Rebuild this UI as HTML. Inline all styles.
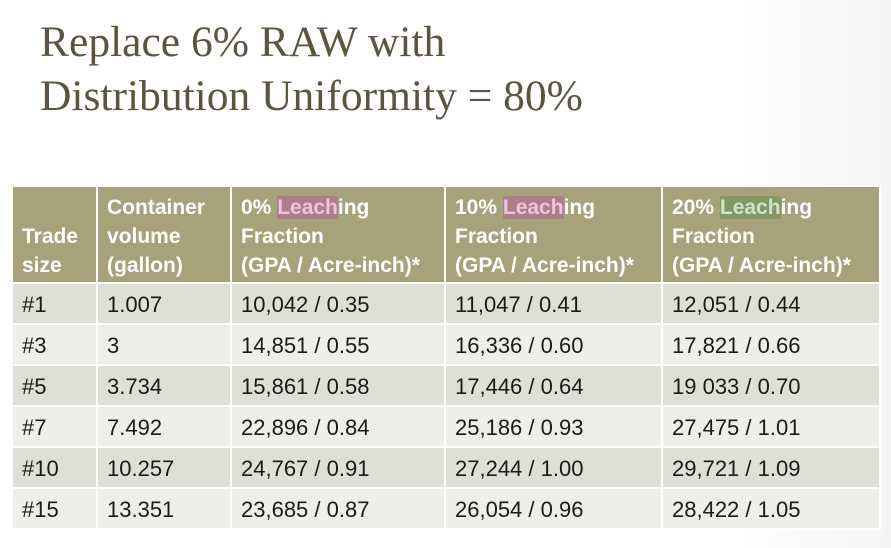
<!DOCTYPE html>
<html><head><meta charset="utf-8"><style>
body{margin:0;width:891px;height:548px;background:#fff;overflow:hidden;position:relative;font-family:"Liberation Sans",sans-serif;}
.bg{position:absolute;right:0;top:0;width:150px;height:548px;background:linear-gradient(90deg,#fff,#f4f4f4);}
h1{position:absolute;left:40px;top:15px;margin:0;font-family:"Liberation Serif",serif;font-weight:normal;font-size:43.5px;line-height:54px;color:#5a5440;}
table{position:absolute;left:11px;top:185px;width:868px;border-collapse:collapse;table-layout:fixed;}
td,th{border:2px solid #fff;padding:3px 0 0 9px;font-size:22px;color:#1a1a1a;text-align:left;vertical-align:middle;height:36px;font-weight:normal;white-space:nowrap;overflow:hidden;}
th{background:#a8a27a;color:#fff;font-weight:bold;vertical-align:bottom;height:93px;line-height:29px;padding:0 0 2px 9px;font-size:21px;}
tr.a td{background:#e0dfd7;}
tr.b td{background:#efeee9;}
.p{background:#a98184;color:#ecc3e6;}
.g{background:#859762;color:#cfe3c9;}
</style></head><body>
<div class="bg"></div>
<h1>Replace 6% RAW with<br>Distribution Uniformity = 80%</h1>
<table>
<colgroup><col style="width:85px"><col style="width:134px"><col style="width:214px"><col style="width:217px"><col style="width:218px"></colgroup>
<tr>
<th>Trade<br>size</th>
<th>Container<br>volume<br>(gallon)</th>
<th>0% <span class="p">Leach</span>ing<br>Fraction<br>(GPA / Acre-inch)*</th>
<th>10% <span class="p">Leach</span>ing<br>Fraction<br>(GPA / Acre-inch)*</th>
<th>20% <span class="g">Leach</span>ing<br>Fraction<br>(GPA / Acre-inch)*</th>
</tr>
<tr class="a"><td>#1</td><td>1.007</td><td>10,042 / 0.35</td><td>11,047 / 0.41</td><td>12,051 / 0.44</td></tr>
<tr class="b"><td>#3</td><td>3</td><td>14,851 / 0.55</td><td>16,336 / 0.60</td><td>17,821 / 0.66</td></tr>
<tr class="a"><td>#5</td><td>3.734</td><td>15,861 / 0.58</td><td>17,446 / 0.64</td><td>19 033 / 0.70</td></tr>
<tr class="b"><td>#7</td><td>7.492</td><td>22,896 / 0.84</td><td>25,186 / 0.93</td><td>27,475 / 1.01</td></tr>
<tr class="a"><td>#10</td><td>10.257</td><td>24,767 / 0.91</td><td>27,244 / 1.00</td><td>29,721 / 1.09</td></tr>
<tr class="b"><td>#15</td><td>13.351</td><td>23,685 / 0.87</td><td>26,054 / 0.96</td><td>28,422 / 1.05</td></tr>
</table>
</body></html>
